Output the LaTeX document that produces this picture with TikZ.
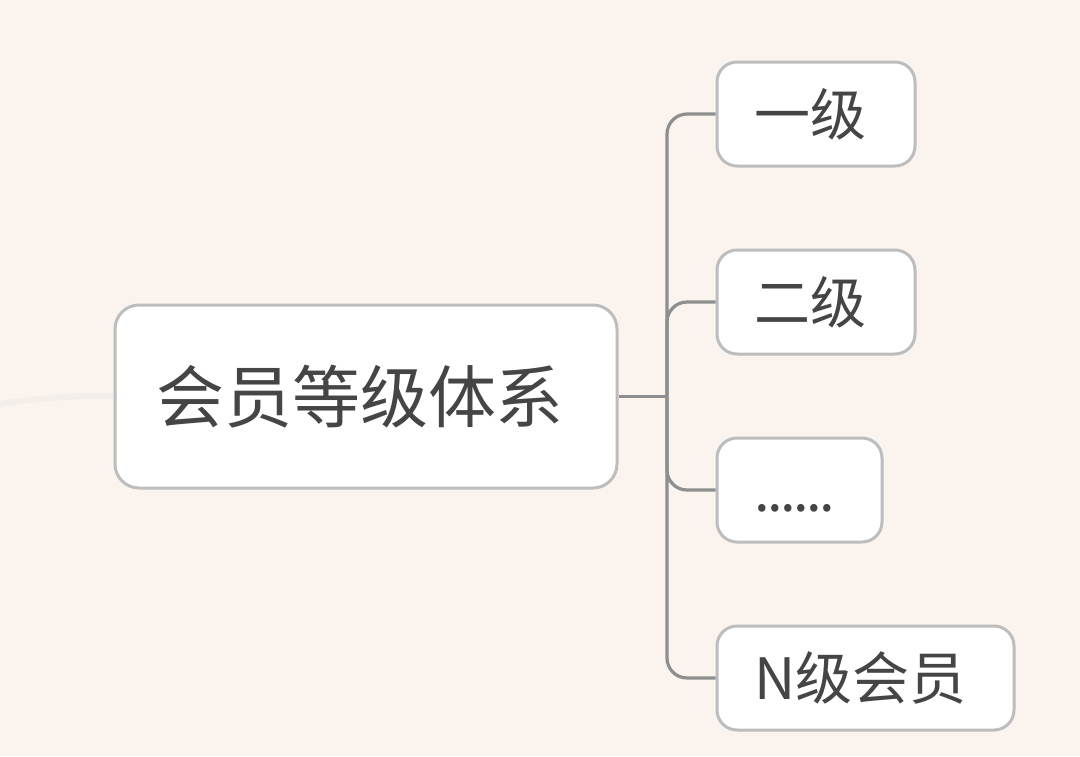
\documentclass[tikz,border=0pt]{standalone}
\usepackage{fontspec}
\newfontfamily\cjk{Noto Sans CJK SC}
\newfontfamily\cjkb{Noto Sans CJK SC Medium}
\definecolor{bg}{HTML}{FBF3EE}
\definecolor{bord}{HTML}{BDBDBD}
\definecolor{linec}{HTML}{8E8E8E}
\definecolor{txt}{HTML}{454545}
\definecolor{faint}{HTML}{F3EEE9}
\newcommand{\lvl}{\vphantom{级}}
\newcommand{\dotk}{.\kern-2.4pt}
\tikzset{
  box/.style={draw=bord, line width=3pt, fill=white, rounded corners=20pt,
    text=txt, align=left, inner ysep=0pt},
  rootbox/.style={box, font=\cjk\fontsize{68}{68}\selectfont, inner xsep=41pt, minimum height=183pt, rounded corners=24pt},
  childbox/.style={box, font=\cjk\fontsize{56}{56}\selectfont, inner xsep=37pt, minimum height=104pt},
  conn/.style={draw=linec, line width=3.2pt, rounded corners=20pt}
}
\begin{document}
\begin{tikzpicture}[x=1pt,y=-1pt]
\useasboundingbox (0,0) rectangle (1080,756);
\fill[bg] (0,0) rectangle (1080,756);
\draw[faint, line width=6pt] (0,404) .. controls (40,398) and (80,395) .. (116,396);
\node[rootbox, text width=420pt] (root) at (366,396.5) {\lvl 会员等级体系};
\node[childbox, text width=124pt] (c1) at (816,114) {\lvl 一级};
\node[childbox, text width=124pt] (c2) at (816,302) {\lvl 二级};
\node[childbox, text width=91pt] (c3) at (799.5,490) {\lvl\dotk\dotk\dotk\dotk\dotk.};
\node[childbox, text width=223pt, font=\cjk\fontsize{57}{57}\selectfont] (c4) at (865.5,678) {\lvl N级会员};
\coordinate (j) at (667,396.5);
\draw[conn] (root.east) -- (j);
\draw[conn] (j) |- (c1.west);
\draw[conn] (j) |- (c2.west);
\draw[conn] (j) |- (c3.west);
\draw[conn] (j) |- (c4.west);
\end{tikzpicture}
\end{document}
